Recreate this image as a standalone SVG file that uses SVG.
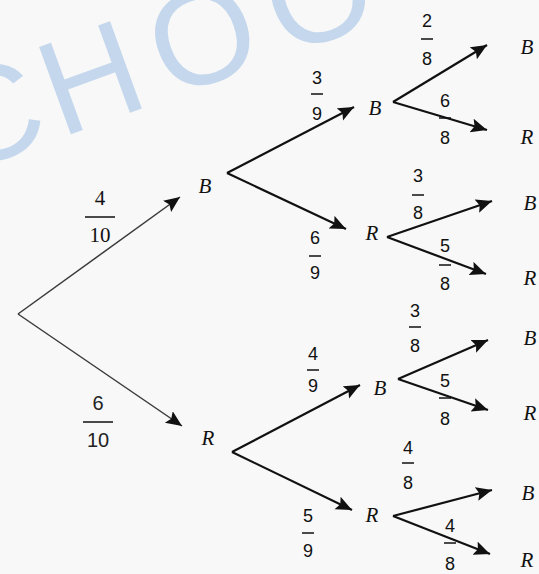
<svg xmlns="http://www.w3.org/2000/svg" width="539" height="574" viewBox="0 0 539 574">
<defs>
<style>
.wm{font-family:"Liberation Sans",Arial,sans-serif;font-size:135px;fill:#b3cdea;opacity:0.75;letter-spacing:8px}
.lbl{font-family:"Liberation Serif","Times New Roman",serif;font-style:italic;font-size:21px;fill:#111;text-anchor:middle}
.fr{font-family:"Liberation Sans",Arial,sans-serif;font-size:18px;fill:#111;text-anchor:middle}
.frs{font-family:"Liberation Serif","Times New Roman",serif;font-size:21px;fill:#111;text-anchor:middle}
.frl{font-family:"Liberation Sans",Arial,sans-serif;font-size:20px;fill:#222;text-anchor:middle}
.bar{stroke:#111;stroke-width:1.5}
.e1{stroke:#3a3a3a;stroke-width:1.5;fill:none;marker-end:url(#ah)}
.e2{stroke:#111;stroke-width:2.2;fill:none;marker-end:url(#ah)}
</style>
<marker id="ah" markerUnits="userSpaceOnUse" markerWidth="18" markerHeight="16" refX="16" refY="7" orient="auto">
<path d="M0,0 L16,7 L0,14 L3,7 z" fill="#111"/>
</marker>
</defs>
<rect width="539" height="574" fill="#f8f8f8"/>
<text class="wm" transform="translate(-38.6,174) rotate(-20)" dx="0 0 10 10 45">CHOOL</text>

<g id="connectors">
<line class="e1" x1="18" y1="314" x2="180" y2="197"/>
<line class="e1" x1="18" y1="314" x2="182" y2="426"/>
<line class="e2" x1="227" y1="173" x2="354" y2="107"/>
<line class="e2" x1="227" y1="173" x2="346" y2="229"/>
<line class="e2" x1="232" y1="452" x2="360" y2="385"/>
<line class="e2" x1="232" y1="452" x2="352" y2="510"/>
<line class="e2" x1="393" y1="102" x2="487" y2="45"/>
<line class="e2" x1="393" y1="102" x2="487" y2="130"/>
<line class="e2" x1="387" y1="237" x2="492" y2="201"/>
<line class="e2" x1="387" y1="237" x2="486" y2="274"/>
<line class="e2" x1="398" y1="379" x2="488" y2="340"/>
<line class="e2" x1="398" y1="379" x2="488" y2="410"/>
<line class="e2" x1="393" y1="516" x2="492" y2="490"/>
<line class="e2" x1="393" y1="516" x2="490" y2="554"/>
</g>

<g id="node-B1"><text class="lbl" x="205" y="193">B</text></g>
<g id="node-R1"><text class="lbl" x="208" y="445">R</text></g>
<g id="node-BB"><text class="lbl" x="375" y="115">B</text></g>
<g id="node-BR"><text class="lbl" x="372" y="240">R</text></g>
<g id="node-RB"><text class="lbl" x="380" y="395">B</text></g>
<g id="node-RR"><text class="lbl" x="372" y="522">R</text></g>
<g id="node-BBB"><text class="lbl" x="527" y="54">B</text></g>
<g id="node-BBR"><text class="lbl" x="527" y="144">R</text></g>
<g id="node-BRB"><text class="lbl" x="530" y="210">B</text></g>
<g id="node-BRR"><text class="lbl" x="530" y="285">R</text></g>
<g id="node-RBB"><text class="lbl" x="530" y="345">B</text></g>
<g id="node-RBR"><text class="lbl" x="530" y="420">R</text></g>
<g id="node-RRB"><text class="lbl" x="528" y="500">B</text></g>
<g id="node-RRR"><text class="lbl" x="527" y="567">R</text></g>

<g id="prob-4-10"><text class="frs" x="100" y="205">4</text><line class="bar" x1="85" y1="217" x2="115" y2="217"/><text class="frs" x="100" y="242">10</text></g>
<g id="prob-6-10"><text class="frl" x="98" y="410">6</text><line class="bar" x1="83" y1="422" x2="113" y2="422"/><text class="frl" x="98" y="447">10</text></g>
<g id="prob-3-9"><text class="fr" x="317" y="84">3</text><line class="bar" x1="311" y1="94" x2="323" y2="94"/><text class="fr" x="317" y="120">9</text></g>
<g id="prob-6-9"><text class="fr" x="315" y="244">6</text><line class="bar" x1="309" y1="256" x2="321" y2="256"/><text class="fr" x="315" y="279">9</text></g>
<g id="prob-4-9"><text class="fr" x="313" y="360">4</text><line class="bar" x1="307" y1="370" x2="319" y2="370"/><text class="fr" x="313" y="392">9</text></g>
<g id="prob-5-9"><text class="fr" x="308" y="522">5</text><line class="bar" x1="302" y1="533" x2="314" y2="533"/><text class="fr" x="308" y="557">9</text></g>
<g id="prob-2-8"><text class="fr" x="427" y="27">2</text><line class="bar" x1="421" y1="39" x2="433" y2="39"/><text class="fr" x="427" y="65">8</text></g>
<g id="prob-6-8"><text class="fr" x="445" y="107">6</text><line class="bar" x1="439" y1="118" x2="451" y2="118"/><text class="fr" x="445" y="144">8</text></g>
<g id="prob-3-8a"><text class="fr" x="418" y="182">3</text><line class="bar" x1="412" y1="195" x2="424" y2="195"/><text class="fr" x="418" y="219">8</text></g>
<g id="prob-5-8a"><text class="fr" x="445" y="252">5</text><line class="bar" x1="439" y1="265" x2="451" y2="265"/><text class="fr" x="445" y="290">8</text></g>
<g id="prob-3-8b"><text class="fr" x="415" y="317">3</text><line class="bar" x1="409" y1="327" x2="421" y2="327"/><text class="fr" x="415" y="352">8</text></g>
<g id="prob-5-8b"><text class="fr" x="445" y="387">5</text><line class="bar" x1="439" y1="398" x2="451" y2="398"/><text class="fr" x="445" y="425">8</text></g>
<g id="prob-4-8a"><text class="fr" x="408" y="454">4</text><line class="bar" x1="402" y1="463" x2="414" y2="463"/><text class="fr" x="408" y="489">8</text></g>
<g id="prob-4-8b"><text class="fr" x="450" y="532">4</text><line class="bar" x1="444" y1="543" x2="456" y2="543"/><text class="fr" x="450" y="570">8</text></g>
</svg>
